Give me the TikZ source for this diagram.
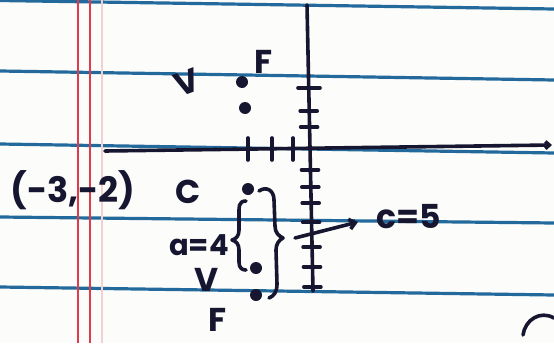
\documentclass[tikz,border=0pt]{standalone}
\usepackage{fontspec}
\setmainfont{Poppins}
\usetikzlibrary{arrows.meta}
\definecolor{paper}{RGB}{252,252,250}
\definecolor{rulec}{RGB}{35,105,155}
\definecolor{marginc}{RGB}{222,60,75}
\definecolor{pinkm}{RGB}{242,208,212}
\definecolor{ink}{RGB}{22,22,48}
\begin{document}
\begin{tikzpicture}[x=1pt,y=-1pt,
  ruleline/.style={rulec,line width=3.2pt},
  marginline/.style={marginc,line width=2pt},
  pen/.style={ink,line width=3.6pt,line cap=round,line join=round},
  dot/.style={circle,fill=ink,inner sep=0pt,minimum size=12pt},
  hw/.style={text=ink,inner sep=0pt,font=\fontsize{33}{36}\selectfont\bfseries}]
\fill[paper] (0,0) rectangle (554,343);
\useasboundingbox (0,0) rectangle (554,343);
% ruled paper
\draw[ruleline] (0,0.5) -- (554,9);
\draw[ruleline] (0,71) -- (554,80);
\draw[ruleline] (0,144) -- (554,153);
\draw[ruleline] (0,217) -- (554,223);
\draw[ruleline] (0,287) -- (554,295);
\draw[pinkm,line width=2.2pt] (102,0) -- (102,343);
\draw[marginline] (78,0) -- (78,343);
\draw[marginline] (90,0) -- (90,343);
% axes
\draw[pen] (307,5) -- (313,291);
\draw[pen,-{Straight Barb[length=4pt,width=7pt]}] (105,151) -- (552,145);
\foreach \x in {248,272,293} \draw[pen] (\x,138) -- (\x,160);
\draw[pen] (298,88) -- (320,88);
\foreach \y/\x in {111/309.2,127/309.6,170/310.5,187/310.8,203/311.2,222/311.6,247/312.1,267/312.5,287/312.9}
  \draw[pen] (\x-9,\y) -- (\x+8,\y);
% points
\node[dot] (f1) at (242,82) {};
\node[dot] (v1) at (245,108) {};
\node[dot] (ctr) at (248,189) {};
\node[dot] (v2) at (256,268) {};
\node[dot] (f2) at (256,295) {};
% labels
\node[hw,rotate=20] (lv1) at (187,82) {V};
\node[hw] (lf1) at (264,62) {F};
\node[hw] (lc) at (188,192) {C};
\node[hw,font=\fontsize{29}{32}\selectfont\bfseries] (la) at (199,245) {a=4};
\node[hw] (lv2) at (207,280) {V};
\node[hw] (lf2) at (218,320) {F};
\node[hw,font=\fontsize{35}{40}\selectfont\bfseries] (pt) at (73,190) {(-3,-2)};
\node[hw] (c5) at (409,217) {c=5};
% braces
\draw[pen] (246,201) .. controls (238,201) and (239,208) .. (239,215) -- (239,230)
  .. controls (239,236) and (236,239) .. (232,240)
  .. controls (236,241) and (239,244) .. (239,250) -- (239,262)
  .. controls (239,268) and (242,270) .. (246,270);
\draw[pen] (259,191) .. controls (266,186) and (274,190) .. (274,200) -- (275,226)
  .. controls (275,233) and (279,236) .. (283,238)
  .. controls (279,240) and (276,244) .. (276,250) -- (277,284)
  .. controls (277,292) and (274,296) .. (269,298);
% arrow to c=5
\coordinate (as) at (295,238);
\draw[pen,-{Straight Barb[length=6pt,width=10pt]}] (as) -- (358,222);
% fragment of next character
\draw[pen] (523,335) .. controls (525,320) and (540,310) .. (554,318);
\end{tikzpicture}
\end{document}
